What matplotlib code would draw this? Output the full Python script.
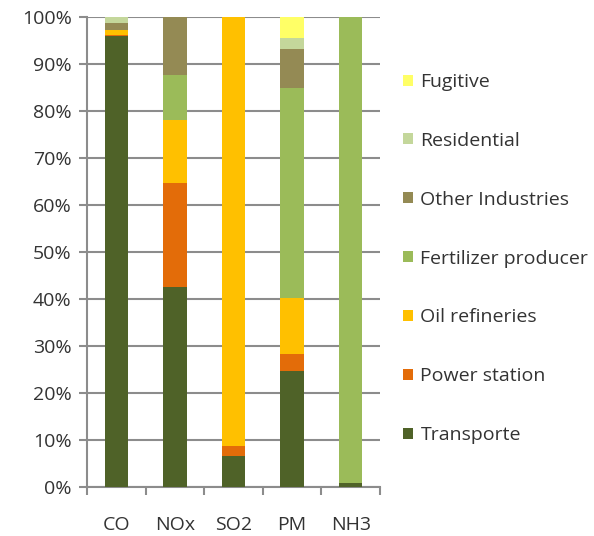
import matplotlib
matplotlib.use("Agg")
import matplotlib.pyplot as plt
from matplotlib.patches import Patch
import numpy as np

plt.rcParams['font.family'] = ['Open Sans', 'DejaVu Sans']

pollutants = ["CO", "NOx", "SO2", "PM", "NH3"]
sources = ["Transporte", "Power station", "Oil refineries", "Fertilizer producer",
           "Other Industries", "Residential", "Fugitive"]

# share of each source (%) per pollutant, in the order of `pollutants`
transporte = [96.0, 42.6, 6.5, 24.6, 0.9]
power_station = [0.2, 22.1, 2.2, 3.8, 0.0]
oil_refineries = [1.1, 13.4, 91.3, 11.8, 0.0]
fertilizer_producer = [0.0, 9.5, 0.0, 44.6, 99.1]
other_industries = [1.5, 12.4, 0.0, 8.4, 0.0]
residential = [1.2, 0.0, 0.0, 2.3, 0.0]
fugitive = [0.0, 0.0, 0.0, 4.5, 0.0]

series = [transporte, power_station, oil_refineries, fertilizer_producer,
          other_industries, residential, fugitive]
colors = ["#4F6228", "#E36C09", "#FFC000", "#9BBB59", "#948A54", "#C4D79B", "#FFFF66"]

fig = plt.figure(figsize=(5.94, 5.36), dpi=100)
ax = fig.add_axes([87 / 594, 1 - 487 / 536, (380 - 87) / 594, (487 - 17) / 536])

x = np.arange(len(pollutants))
bottom = np.zeros(len(pollutants))
for vals, col in zip(series, colors):
    ax.bar(x, vals, width=0.4, bottom=bottom, color=col, zorder=3, linewidth=0)
    bottom += np.array(vals)

grid_col = "#8C8C8C"
ax.set_xlim(-0.5, len(pollutants) - 0.5)
ax.set_ylim(0, 100)
ax.set_yticks(np.arange(0, 101, 10))
ax.set_yticklabels([f"{v}%" for v in range(0, 101, 10)])
ax.yaxis.grid(True, color=grid_col, linewidth=1.5, zorder=0)

for s in ["top", "right"]:
    ax.spines[s].set_visible(False)
for s in ["left", "bottom"]:
    ax.spines[s].set_color(grid_col)
    ax.spines[s].set_linewidth(1.5)

# category labels between boundary ticks
ax.set_xticks(np.arange(-0.5, len(pollutants), 1.0))
ax.set_xticklabels([])
ax.set_xticks(x, minor=True)
ax.set_xticklabels(pollutants, minor=True)
ax.tick_params(axis="x", which="major", length=6, width=1.5, color=grid_col)
ax.tick_params(axis="x", which="minor", length=0, pad=21, labelsize=14, labelcolor="#333333")
ax.tick_params(axis="y", length=6, width=1.5, color=grid_col, pad=5, labelsize=14,
               labelcolor="#333333")

handles = [Patch(facecolor=c, edgecolor="none") for c in colors]
leg = fig.legend(handles[::-1], sources[::-1], loc="center left",
                 bbox_to_anchor=(403 / 594, 1 - 258.5 / 536), frameon=False,
                 fontsize=14, labelspacing=2.1, handlelength=0.5, handleheight=0.5,
                 handletextpad=0.4, borderpad=0, borderaxespad=0, labelcolor="#333333")

fig.savefig("out.png", dpi=100)
